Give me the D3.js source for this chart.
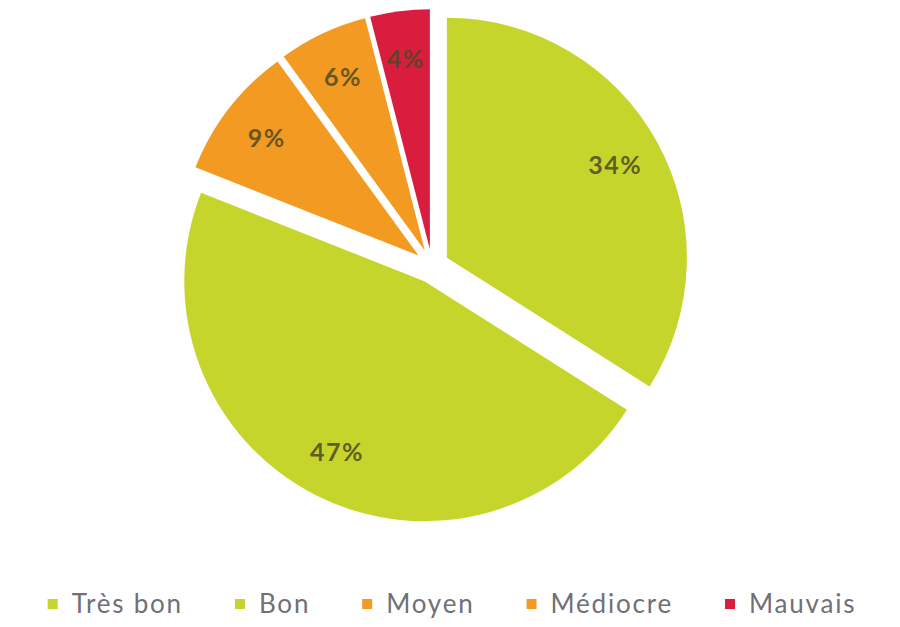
<!DOCTYPE html>
<html><head><meta charset="utf-8">
<script src="https://cdn.jsdelivr.net/npm/d3@7"></script>
<style>body{margin:0;background:#fff;} svg{display:block;}</style>
</head><body>
<svg id="chart" width="900" height="627"></svg>
<script>
const categories = ["Très bon", "Bon", "Moyen", "Médiocre", "Mauvais"];
const values = [34, 47, 9, 6, 4];
const labels = ["34%", "47%", "9%", "6%", "4%"];
const colors = ["#c6d52b", "#c6d52b", "#f39a22", "#f39a22", "#d91d3e"];

const svg = d3.select("#chart");
const cx = 432, cy = 266, R = 240, explode = 17;

const data = categories.map((c, i) => ({cat: c, value: values[i], label: labels[i], color: colors[i]}));
const pie = d3.pie().sort(null).value(d => d.value);
const arcs = pie(data);
const arc = d3.arc().innerRadius(0).outerRadius(R);
const labelArc = d3.arc().innerRadius(192).outerRadius(192);

const g = svg.append("g").attr("transform", `translate(${cx},${cy})`);
const slices = g.selectAll("g.slice").data(arcs).enter().append("g")
  .attr("class", "slice")
  .attr("transform", d => {
    const a = (d.startAngle + d.endAngle) / 2;
    return `translate(${explode * Math.sin(a)},${-explode * Math.cos(a)})`;
  });
slices.append("path").attr("d", arc).attr("fill", d => d.data.color);
slices.append("text")
  .attr("transform", d => `translate(${labelArc.centroid(d)})`)
  .attr("text-anchor", "middle").attr("dy", "0.36em")
  .attr("font-family", "Lato, 'Open Sans', sans-serif")
  .attr("font-weight", "bold").attr("font-size", 25)
  .attr("letter-spacing", 1.5)
  .attr("fill", "#4d4a22").attr("fill-opacity", 0.85)
  .text(d => d.data.label);

// legend
const legend = svg.append("g").attr("transform", "translate(0,604)");
const items = legend.selectAll("g").data(data).enter().append("g");
items.append("rect").attr("width", 10).attr("height", 10).attr("y", -5).attr("fill", d => d.color);
items.append("text").attr("x", 24).attr("dy", "0.35em")
  .attr("font-family", "Lato, 'Open Sans', sans-serif").attr("font-size", 26)
  .attr("letter-spacing", 1.8)
  .attr("fill", "#707078").text(d => d.cat);
const gap = 52;
let widths = [];
items.each(function() { widths.push(this.getBBox().width); });
const total = d3.sum(widths) + gap * (widths.length - 1);
let x = 452 - total / 2;
items.attr("transform", (d, i) => { const t = `translate(${x},0)`; x += widths[i] + gap; return t; });
</script>
</body></html>
